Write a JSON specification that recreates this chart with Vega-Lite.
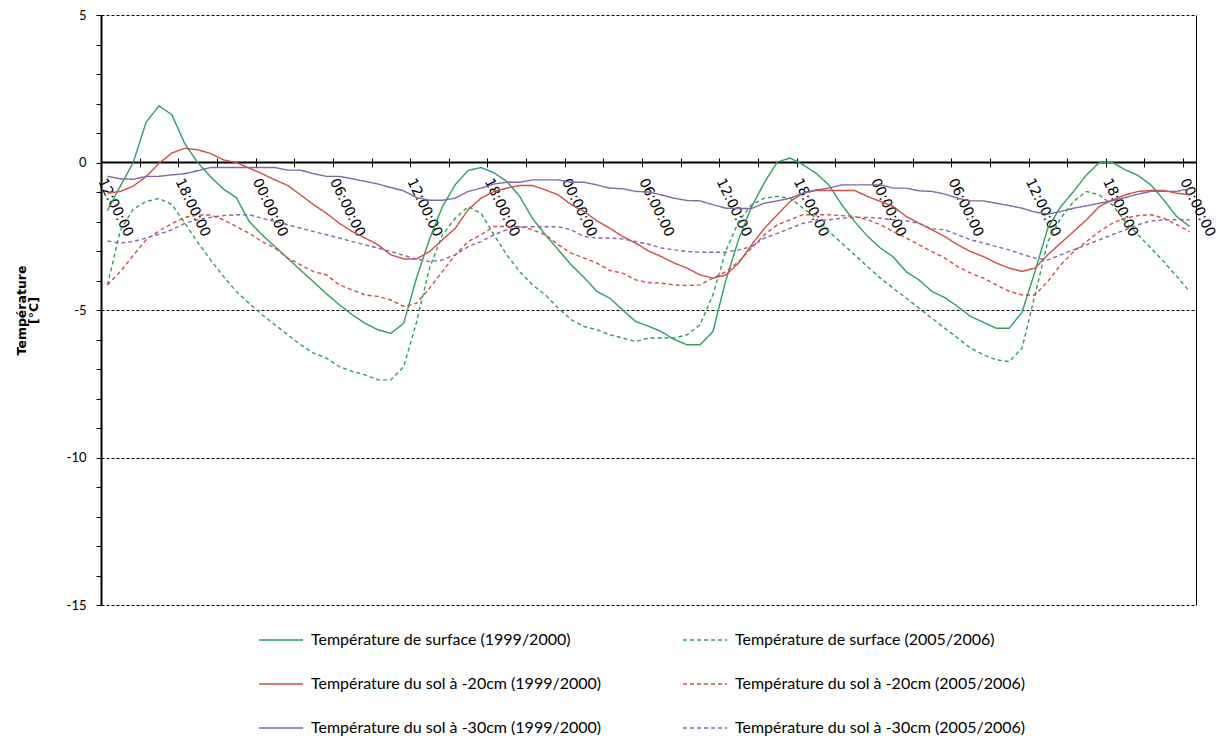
{
  "$schema": "https://vega.github.io/schema/vega-lite/v6.json",
  "width": 1095,
  "height": 590,
  "autosize": {"type": "none"},
  "padding": {"left": 101, "top": 15, "right": 24, "bottom": 131},
  "background": "white",
  "title": {
    "text": "Évolution horaire pour le gel des sols à faible profondeur",
    "font": "Lato",
    "fontSize": 19,
    "fontWeight": "bold",
    "color": "black",
    "baseline": "alphabetic",
    "offset": 16,
    "anchor": "middle",
    "frame": "group"
  },
  "config": {
    "view": {"stroke": null},
    "legend": {
      "orient": "none",
      "legendX": 157,
      "legendY": 602,
      "columns": 2,
      "columnPadding": 78,
      "rowPadding": 13,
      "symbolType": "stroke",
      "symbolSize": 1936,
      "symbolStrokeWidth": 1.5,
      "labelFont": "Lato",
      "labelFontSize": 16,
      "labelColor": "black",
      "labelOffset": 7,
      "labelLimit": 500
    }
  },
  "layer": [
    {
      "data": {"values": [{}]},
      "mark": {"type": "rule", "color": "black", "strokeWidth": 2},
      "encoding": {
        "y": {
          "datum": 0,
          "type": "quantitative",
          "axis": {
            "orient": "right",
            "domain": true,
            "domainColor": "black",
            "domainWidth": 1,
            "ticks": false,
            "labels": false,
            "grid": false,
            "title": null
          }
        }
      }
    },
    {
      "data": {
        "values": [
          {"heure": 0.5, "surf_1999": -1.63, "surf_2005": -4.15, "sol20_1999": -1.04, "sol20_2005": -4.15, "sol30_1999": -0.47, "sol30_2005": -2.66},
          {"heure": 1.5, "surf_1999": -0.8, "surf_2005": -2.3, "sol20_1999": -0.98, "sol20_2005": -3.7, "sol30_1999": -0.55, "sol30_2005": -2.73},
          {"heure": 2.5, "surf_1999": 0.0, "surf_2005": -1.58, "sol20_1999": -0.8, "sol20_2005": -3.15, "sol30_1999": -0.57, "sol30_2005": -2.68},
          {"heure": 3.5, "surf_1999": 1.36, "surf_2005": -1.32, "sol20_1999": -0.48, "sol20_2005": -2.62, "sol30_1999": -0.47, "sol30_2005": -2.56},
          {"heure": 4.5, "surf_1999": 1.92, "surf_2005": -1.22, "sol20_1999": -0.03, "sol20_2005": -2.32, "sol30_1999": -0.47, "sol30_2005": -2.43},
          {"heure": 5.5, "surf_1999": 1.62, "surf_2005": -1.42, "sol20_1999": 0.32, "sol20_2005": -2.07, "sol30_1999": -0.42, "sol30_2005": -2.28},
          {"heure": 6.5, "surf_1999": 0.64, "surf_2005": -2.05, "sol20_1999": 0.48, "sol20_2005": -1.86, "sol30_1999": -0.38, "sol30_2005": -2.06},
          {"heure": 7.5, "surf_1999": 0.0, "surf_2005": -2.7, "sol20_1999": 0.43, "sol20_2005": -1.78, "sol30_1999": -0.28, "sol30_2005": -1.94},
          {"heure": 8.5, "surf_1999": -0.48, "surf_2005": -3.3, "sol20_1999": 0.31, "sol20_2005": -1.78, "sol30_1999": -0.17, "sol30_2005": -1.86},
          {"heure": 9.5, "surf_1999": -0.9, "surf_2005": -3.86, "sol20_1999": 0.09, "sol20_2005": -1.94, "sol30_1999": -0.17, "sol30_2005": -1.8},
          {"heure": 10.5, "surf_1999": -1.19, "surf_2005": -4.37, "sol20_1999": 0.0, "sol20_2005": -2.17, "sol30_1999": -0.17, "sol30_2005": -1.77},
          {"heure": 11.5, "surf_1999": -2.0, "surf_2005": -4.77, "sol20_1999": -0.19, "sol20_2005": -2.4, "sol30_1999": -0.17, "sol30_2005": -1.77},
          {"heure": 12.5, "surf_1999": -2.45, "surf_2005": -5.16, "sol20_1999": -0.38, "sol20_2005": -2.68, "sol30_1999": -0.17, "sol30_2005": -1.89},
          {"heure": 13.5, "surf_1999": -2.85, "surf_2005": -5.5, "sol20_1999": -0.59, "sol20_2005": -2.9, "sol30_1999": -0.17, "sol30_2005": -2.0},
          {"heure": 14.5, "surf_1999": -3.25, "surf_2005": -5.84, "sol20_1999": -0.78, "sol20_2005": -3.24, "sol30_1999": -0.26, "sol30_2005": -2.11},
          {"heure": 15.5, "surf_1999": -3.65, "surf_2005": -6.18, "sol20_1999": -1.1, "sol20_2005": -3.47, "sol30_1999": -0.26, "sol30_2005": -2.23},
          {"heure": 16.5, "surf_1999": -4.05, "surf_2005": -6.46, "sol20_1999": -1.43, "sol20_2005": -3.7, "sol30_1999": -0.38, "sol30_2005": -2.34},
          {"heure": 17.5, "surf_1999": -4.45, "surf_2005": -6.63, "sol20_1999": -1.72, "sol20_2005": -3.81, "sol30_1999": -0.47, "sol30_2005": -2.45},
          {"heure": 18.5, "surf_1999": -4.82, "surf_2005": -6.92, "sol20_1999": -2.06, "sol20_2005": -4.15, "sol30_1999": -0.47, "sol30_2005": -2.56},
          {"heure": 19.5, "surf_1999": -5.16, "surf_2005": -7.08, "sol20_1999": -2.34, "sol20_2005": -4.32, "sol30_1999": -0.55, "sol30_2005": -2.68},
          {"heure": 20.5, "surf_1999": -5.45, "surf_2005": -7.2, "sol20_1999": -2.56, "sol20_2005": -4.49, "sol30_1999": -0.64, "sol30_2005": -2.79},
          {"heure": 21.5, "surf_1999": -5.67, "surf_2005": -7.37, "sol20_1999": -2.79, "sol20_2005": -4.54, "sol30_1999": -0.73, "sol30_2005": -2.9},
          {"heure": 22.5, "surf_1999": -5.79, "surf_2005": -7.37, "sol20_1999": -3.13, "sol20_2005": -4.66, "sol30_1999": -0.85, "sol30_2005": -3.02},
          {"heure": 23.5, "surf_1999": -5.45, "surf_2005": -6.92, "sol20_1999": -3.27, "sol20_2005": -4.88, "sol30_1999": -0.96, "sol30_2005": -3.15},
          {"heure": 24.5, "surf_1999": -3.9, "surf_2005": -5.4, "sol20_1999": -3.27, "sol20_2005": -4.77, "sol30_1999": -1.19, "sol30_2005": -3.27},
          {"heure": 25.5, "surf_1999": -2.6, "surf_2005": -3.58, "sol20_1999": -3.02, "sol20_2005": -4.26, "sol30_1999": -1.28, "sol30_2005": -3.36},
          {"heure": 26.5, "surf_1999": -1.5, "surf_2005": -2.45, "sol20_1999": -2.62, "sol20_2005": -3.7, "sol30_1999": -1.28, "sol30_2005": -3.3},
          {"heure": 27.5, "surf_1999": -0.75, "surf_2005": -1.89, "sol20_1999": -2.23, "sol20_2005": -3.13, "sol30_1999": -1.21, "sol30_2005": -3.13},
          {"heure": 28.5, "surf_1999": -0.27, "surf_2005": -1.5, "sol20_1999": -1.6, "sol20_2005": -2.68, "sol30_1999": -0.98, "sol30_2005": -2.85},
          {"heure": 29.5, "surf_1999": -0.17, "surf_2005": -1.72, "sol20_1999": -1.21, "sol20_2005": -2.45, "sol30_1999": -0.87, "sol30_2005": -2.68},
          {"heure": 30.5, "surf_1999": -0.35, "surf_2005": -2.45, "sol20_1999": -0.98, "sol20_2005": -2.17, "sol30_1999": -0.73, "sol30_2005": -2.45},
          {"heure": 31.5, "surf_1999": -0.64, "surf_2005": -3.13, "sol20_1999": -0.87, "sol20_2005": -2.17, "sol30_1999": -0.67, "sol30_2005": -2.28},
          {"heure": 32.5, "surf_1999": -1.15, "surf_2005": -3.7, "sol20_1999": -0.78, "sol20_2005": -2.17, "sol30_1999": -0.67, "sol30_2005": -2.18},
          {"heure": 33.5, "surf_1999": -1.9, "surf_2005": -4.15, "sol20_1999": -0.78, "sol20_2005": -2.28, "sol30_1999": -0.59, "sol30_2005": -2.18},
          {"heure": 34.5, "surf_1999": -2.45, "surf_2005": -4.49, "sol20_1999": -0.93, "sol20_2005": -2.45, "sol30_1999": -0.59, "sol30_2005": -2.18},
          {"heure": 35.5, "surf_1999": -2.96, "surf_2005": -4.94, "sol20_1999": -1.1, "sol20_2005": -2.79, "sol30_1999": -0.59, "sol30_2005": -2.18},
          {"heure": 36.5, "surf_1999": -3.47, "surf_2005": -5.33, "sol20_1999": -1.43, "sol20_2005": -3.07, "sol30_1999": -0.67, "sol30_2005": -2.28},
          {"heure": 37.5, "surf_1999": -3.9, "surf_2005": -5.56, "sol20_1999": -1.66, "sol20_2005": -3.24, "sol30_1999": -0.67, "sol30_2005": -2.51},
          {"heure": 38.5, "surf_1999": -4.37, "surf_2005": -5.67, "sol20_1999": -1.98, "sol20_2005": -3.41, "sol30_1999": -0.76, "sol30_2005": -2.56},
          {"heure": 39.5, "surf_1999": -4.6, "surf_2005": -5.84, "sol20_1999": -2.23, "sol20_2005": -3.66, "sol30_1999": -0.87, "sol30_2005": -2.56},
          {"heure": 40.5, "surf_1999": -5.0, "surf_2005": -5.95, "sol20_1999": -2.51, "sol20_2005": -3.75, "sol30_1999": -0.89, "sol30_2005": -2.59},
          {"heure": 41.5, "surf_1999": -5.39, "surf_2005": -6.07, "sol20_1999": -2.73, "sol20_2005": -3.98, "sol30_1999": -0.98, "sol30_2005": -2.68},
          {"heure": 42.5, "surf_1999": -5.55, "surf_2005": -5.95, "sol20_1999": -3.0, "sol20_2005": -4.07, "sol30_1999": -1.0, "sol30_2005": -2.77},
          {"heure": 43.5, "surf_1999": -5.73, "surf_2005": -5.95, "sol20_1999": -3.19, "sol20_2005": -4.09, "sol30_1999": -1.1, "sol30_2005": -2.9},
          {"heure": 44.5, "surf_1999": -6.0, "surf_2005": -5.95, "sol20_1999": -3.41, "sol20_2005": -4.15, "sol30_1999": -1.21, "sol30_2005": -2.96},
          {"heure": 45.5, "surf_1999": -6.18, "surf_2005": -5.84, "sol20_1999": -3.58, "sol20_2005": -4.17, "sol30_1999": -1.29, "sol30_2005": -3.02},
          {"heure": 46.5, "surf_1999": -6.18, "surf_2005": -5.5, "sol20_1999": -3.81, "sol20_2005": -4.15, "sol30_1999": -1.3, "sol30_2005": -3.04},
          {"heure": 47.5, "surf_1999": -5.73, "surf_2005": -4.49, "sol20_1999": -3.92, "sol20_2005": -3.92, "sol30_1999": -1.43, "sol30_2005": -3.04},
          {"heure": 48.5, "surf_1999": -4.0, "surf_2005": -3.0, "sol20_1999": -3.81, "sol20_2005": -3.7, "sol30_1999": -1.55, "sol30_2005": -3.04},
          {"heure": 49.5, "surf_1999": -2.6, "surf_2005": -2.0, "sol20_1999": -3.41, "sol20_2005": -3.36, "sol30_1999": -1.56, "sol30_2005": -2.96},
          {"heure": 50.5, "surf_1999": -1.5, "surf_2005": -1.43, "sol20_1999": -2.79, "sol20_2005": -2.9, "sol30_1999": -1.56, "sol30_2005": -2.85},
          {"heure": 51.5, "surf_1999": -0.68, "surf_2005": -1.21, "sol20_1999": -2.23, "sol20_2005": -2.45, "sol30_1999": -1.38, "sol30_2005": -2.56},
          {"heure": 52.5, "surf_1999": 0.02, "surf_2005": -1.15, "sol20_1999": -1.77, "sol20_2005": -2.11, "sol30_1999": -1.3, "sol30_2005": -2.4},
          {"heure": 53.5, "surf_1999": 0.15, "surf_2005": -1.21, "sol20_1999": -1.32, "sol20_2005": -1.94, "sol30_1999": -1.21, "sol30_2005": -2.23},
          {"heure": 54.5, "surf_1999": -0.08, "surf_2005": -1.55, "sol20_1999": -1.04, "sol20_2005": -1.77, "sol30_1999": -1.04, "sol30_2005": -2.06},
          {"heure": 55.5, "surf_1999": -0.36, "surf_2005": -1.89, "sol20_1999": -0.95, "sol20_2005": -1.77, "sol30_1999": -0.93, "sol30_2005": -1.98},
          {"heure": 56.5, "surf_1999": -0.76, "surf_2005": -2.34, "sol20_1999": -0.95, "sol20_2005": -1.77, "sol30_1999": -0.87, "sol30_2005": -1.94},
          {"heure": 57.5, "surf_1999": -1.43, "surf_2005": -2.73, "sol20_1999": -0.95, "sol20_2005": -1.8, "sol30_1999": -0.76, "sol30_2005": -1.89},
          {"heure": 58.5, "surf_1999": -2.0, "surf_2005": -3.13, "sol20_1999": -0.95, "sol20_2005": -1.83, "sol30_1999": -0.76, "sol30_2005": -1.86},
          {"heure": 59.5, "surf_1999": -2.5, "surf_2005": -3.53, "sol20_1999": -1.15, "sol20_2005": -1.94, "sol30_1999": -0.76, "sol30_2005": -1.86},
          {"heure": 60.5, "surf_1999": -2.9, "surf_2005": -3.92, "sol20_1999": -1.32, "sol20_2005": -2.11, "sol30_1999": -0.76, "sol30_2005": -1.89},
          {"heure": 61.5, "surf_1999": -3.2, "surf_2005": -4.26, "sol20_1999": -1.49, "sol20_2005": -2.34, "sol30_1999": -0.87, "sol30_2005": -1.94},
          {"heure": 62.5, "surf_1999": -3.7, "surf_2005": -4.6, "sol20_1999": -1.83, "sol20_2005": -2.56, "sol30_1999": -0.87, "sol30_2005": -1.98},
          {"heure": 63.5, "surf_1999": -3.98, "surf_2005": -4.94, "sol20_1999": -2.06, "sol20_2005": -2.79, "sol30_1999": -0.96, "sol30_2005": -2.06},
          {"heure": 64.5, "surf_1999": -4.37, "surf_2005": -5.28, "sol20_1999": -2.28, "sol20_2005": -3.02, "sol30_1999": -0.98, "sol30_2005": -2.25},
          {"heure": 65.5, "surf_1999": -4.58, "surf_2005": -5.62, "sol20_1999": -2.51, "sol20_2005": -3.24, "sol30_1999": -1.07, "sol30_2005": -2.28},
          {"heure": 66.5, "surf_1999": -4.88, "surf_2005": -5.95, "sol20_1999": -2.79, "sol20_2005": -3.53, "sol30_1999": -1.21, "sol30_2005": -2.45},
          {"heure": 67.5, "surf_1999": -5.22, "surf_2005": -6.29, "sol20_1999": -3.02, "sol20_2005": -3.75, "sol30_1999": -1.3, "sol30_2005": -2.62},
          {"heure": 68.5, "surf_1999": -5.42, "surf_2005": -6.52, "sol20_1999": -3.19, "sol20_2005": -3.92, "sol30_1999": -1.3, "sol30_2005": -2.73},
          {"heure": 69.5, "surf_1999": -5.62, "surf_2005": -6.69, "sol20_1999": -3.41, "sol20_2005": -4.15, "sol30_1999": -1.38, "sol30_2005": -2.85},
          {"heure": 70.5, "surf_1999": -5.62, "surf_2005": -6.75, "sol20_1999": -3.58, "sol20_2005": -4.37, "sol30_1999": -1.46, "sol30_2005": -2.96},
          {"heure": 71.5, "surf_1999": -5.07, "surf_2005": -6.29, "sol20_1999": -3.69, "sol20_2005": -4.49, "sol30_1999": -1.55, "sol30_2005": -3.11},
          {"heure": 72.5, "surf_1999": -3.7, "surf_2005": -4.49, "sol20_1999": -3.58, "sol20_2005": -4.49, "sol30_1999": -1.68, "sol30_2005": -3.24},
          {"heure": 73.5, "surf_1999": -2.22, "surf_2005": -2.68, "sol20_1999": -3.13, "sol20_2005": -4.03, "sol30_1999": -1.75, "sol30_2005": -3.3},
          {"heure": 74.5, "surf_1999": -1.5, "surf_2005": -1.89, "sol20_1999": -2.73, "sol20_2005": -3.47, "sol30_1999": -1.66, "sol30_2005": -3.13},
          {"heure": 75.5, "surf_1999": -0.98, "surf_2005": -1.32, "sol20_1999": -2.34, "sol20_2005": -3.02, "sol30_1999": -1.55, "sol30_2005": -2.96},
          {"heure": 76.5, "surf_1999": -0.42, "surf_2005": -0.98, "sol20_1999": -1.94, "sol20_2005": -2.68, "sol30_1999": -1.47, "sol30_2005": -2.79},
          {"heure": 77.5, "surf_1999": 0.0, "surf_2005": -1.1, "sol20_1999": -1.49, "sol20_2005": -2.34, "sol30_1999": -1.38, "sol30_2005": -2.62},
          {"heure": 78.5, "surf_1999": 0.0, "surf_2005": -1.43, "sol20_1999": -1.27, "sol20_2005": -2.06, "sol30_1999": -1.3, "sol30_2005": -2.45},
          {"heure": 79.5, "surf_1999": -0.25, "surf_2005": -2.0, "sol20_1999": -1.1, "sol20_2005": -1.89, "sol30_1999": -1.19, "sol30_2005": -2.28},
          {"heure": 80.5, "surf_1999": -0.44, "surf_2005": -2.45, "sol20_1999": -0.98, "sol20_2005": -1.8, "sol30_1999": -1.07, "sol30_2005": -2.11},
          {"heure": 81.5, "surf_1999": -0.76, "surf_2005": -2.9, "sol20_1999": -0.95, "sol20_2005": -1.77, "sol30_1999": -0.98, "sol30_2005": -1.98},
          {"heure": 82.5, "surf_1999": -1.27, "surf_2005": -3.36, "sol20_1999": -0.95, "sol20_2005": -1.89, "sol30_1999": -0.98, "sol30_2005": -1.94},
          {"heure": 83.5, "surf_1999": -1.83, "surf_2005": -3.86, "sol20_1999": -1.04, "sol20_2005": -2.11, "sol30_1999": -0.98, "sol30_2005": -1.94},
          {"heure": 84.5, "surf_1999": -2.17, "surf_2005": -4.37, "sol20_1999": -1.1, "sol20_2005": -2.34, "sol30_1999": -0.89, "sol30_2005": -1.94}
        ]
      },
      "transform": [
        {"fold": ["surf_1999", "sol20_1999", "sol30_1999", "surf_2005", "sol20_2005", "sol30_2005"], "as": ["serie", "temperature"]}
      ],
      "mark": {"type": "line", "strokeWidth": 1.4},
      "encoding": {
        "x": {
          "field": "heure",
          "type": "quantitative",
          "scale": {"domain": [0, 85], "nice": false, "zero": false},
          "axis": {
            "orient": "bottom",
            "offset": -447,
            "values": [0, 3, 6, 9, 12, 15, 18, 21, 24, 27, 30, 33, 36, 39, 42, 45, 48, 51, 54, 57, 60, 63, 66, 69, 72, 75, 78, 81, 84],
            "domain": false,
            "grid": false,
            "tickSize": 9,
            "tickColor": "black",
            "tickWidth": 1,
            "labelAngle": 64,
            "labelAlign": "left",
            "labelBaseline": "middle",
            "labelPadding": 12,
            "labelFont": "DejaVu Sans",
            "labelFontSize": 14,
            "labelColor": "black",
            "labelOverlap": false,
            "labelFlush": false,
            "labelBound": false,
            "labelExpr": "datum.value % 6 === 0 ? ['12:00:00', '18:00:00', '00:00:00', '06:00:00'][(datum.value / 6) % 4] : ''",
            "title": null
          }
        },
        "y": {
          "field": "temperature",
          "type": "quantitative",
          "scale": {"domain": [-15, 5], "nice": false, "zero": false},
          "axis": {
            "orient": "left",
            "values": [-15, -14, -13, -12, -11, -10, -9, -8, -7, -6, -5, -4, -3, -2, -1, 0, 1, 2, 3, 4, 5],
            "domainColor": "black",
            "domainWidth": 2,
            "tickColor": "black",
            "tickSize": 5,
            "tickWidth": 1,
            "labelFont": "Lato",
            "labelFontSize": 13,
            "labelColor": "black",
            "labelPadding": 10,
            "labelExpr": "datum.value % 5 === 0 ? toString(datum.value) : ''",
            "grid": true,
            "gridColor": "black",
            "gridWidth": 1,
            "gridDash": [3, 2],
            "gridOpacity": {"condition": {"test": "datum.value % 5 === 0 && datum.value !== 0", "value": 1}, "value": 0},
            "title": ["Température", "[°C]"],
            "titleFont": "DejaVu Sans",
            "titleFontSize": 12.5,
            "titleFontWeight": "bold",
            "titleColor": "black",
            "titleLineHeight": 12,
            "titlePadding": 26
          }
        },
        "color": {
          "field": "serie",
          "type": "nominal",
          "scale": {
            "domain": ["surf_1999", "sol20_1999", "sol30_1999", "surf_2005", "sol20_2005", "sol30_2005"],
            "range": ["#2e9e61", "#cd4f45", "#8466ab", "#2e9e61", "#cd4f45", "#8466ab"]
          },
          "legend": {
            "title": null,
            "labelExpr": "datum.label == 'surf_1999' ? 'Température de surface (1999/2000)' : datum.label == 'surf_2005' ? 'Température de surface (2005/2006)' : datum.label == 'sol20_1999' ? 'Température du sol à -20cm (1999/2000)' : datum.label == 'sol20_2005' ? 'Température du sol à -20cm (2005/2006)' : datum.label == 'sol30_1999' ? 'Température du sol à -30cm (1999/2000)' : 'Température du sol à -30cm (2005/2006)'"
          }
        },
        "strokeDash": {
          "field": "serie",
          "type": "nominal",
          "scale": {
            "domain": ["surf_1999", "sol20_1999", "sol30_1999", "surf_2005", "sol20_2005", "sol30_2005"],
            "range": [[1, 0], [1, 0], [1, 0], [4, 3], [4, 3], [4, 3]]
          },
          "legend": {
            "title": null,
            "labelExpr": "datum.label == 'surf_1999' ? 'Température de surface (1999/2000)' : datum.label == 'surf_2005' ? 'Température de surface (2005/2006)' : datum.label == 'sol20_1999' ? 'Température du sol à -20cm (1999/2000)' : datum.label == 'sol20_2005' ? 'Température du sol à -20cm (2005/2006)' : datum.label == 'sol30_1999' ? 'Température du sol à -30cm (1999/2000)' : 'Température du sol à -30cm (2005/2006)'"
          }
        }
      }
    }
  ],
  "resolve": {"axis": {"y": "independent"}}
}
